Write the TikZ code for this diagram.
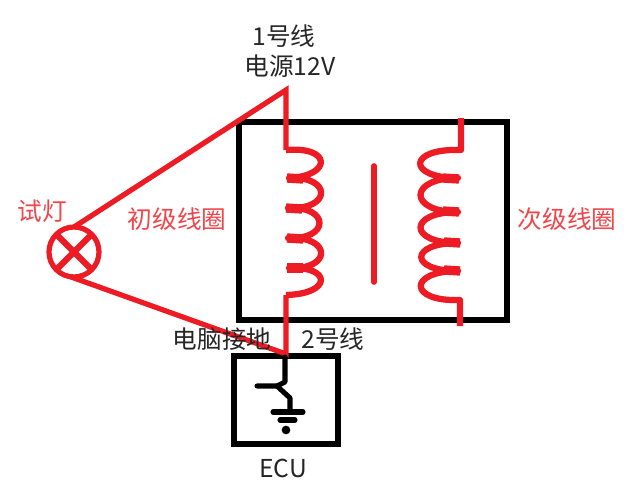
\documentclass[tikz,border=0pt]{standalone}
\usepackage{fontspec}
\setmainfont{Noto Sans CJK SC}
\definecolor{wirered}{RGB}{237,28,36}
\definecolor{labelred}{RGB}{240,70,75}
\tikzset{
  x=0.75pt,y=-0.75pt,
  coilline/.style={draw=wirered,line width=4.7pt,line join=round},
  wireline/.style={draw=wirered,line width=3.9pt,line join=miter},
  junction/.style={draw=wirered,line width=7pt},
  blackline/.style={draw=black,line width=4.8pt,line join=miter,outer sep=0pt,inner sep=0pt,anchor=north west},
  thinblack/.style={draw=black,line width=3.8pt,line cap=round,line join=round},
  lbl/.style={font=\fontsize{18.5}{20}\selectfont,text=black!85,inner sep=0pt},
  redlbl/.style={font=\fontsize{18.5}{20}\selectfont,text=labelred,inner sep=0pt},
}
\begin{document}
\begin{tikzpicture}
\useasboundingbox[fill=white] (0,0) rectangle (640,493);
% boxes
\node[blackline,minimum width=201pt,minimum height=148.5pt] (xfmr) at (239,122) {};
\node[blackline,minimum width=78pt,minimum height=66pt] (ecu) at (234,356) {};
% terminals
\coordinate (top) at (286,90);
\coordinate (bot) at (286,354);
\coordinate (lt) at (286,150);
\coordinate (lb) at (286,295);
\coordinate (rtop) at (461,118);
\coordinate (rt) at (461,150);
\coordinate (rb) at (460,300);
\coordinate (rbot) at (460,326);
% test lamp
\node[circle,draw=wirered,line width=3.9pt,minimum size=37.5pt,inner sep=0pt,outer sep=0pt] (lamp) at (74,252) {};
\draw[coilline] (lamp.45) -- (lamp.225);
\draw[coilline] (lamp.135) -- (lamp.315);
\draw[wireline] (lamp.90) -- (top) -- (lt);
\draw[wireline] (lamp.262) -- (bot) -- (lb);
% primary coil
\draw[coilline] (lt)
  .. controls (332,146) and (332,176) .. (289,178)
  .. controls (332,176) and (332,210) .. (288,208)
  .. controls (330,206) and (330,240) .. (288,238)
  .. controls (332,236) and (332,270) .. (289,268)
  .. controls (332,266) and (332,294) .. (lb);
\draw[junction] (287,178) -- (303,179);
\draw[junction] (286,208) -- (302,209);
\draw[junction] (287,238) -- (303,239);
\draw[junction] (287,268) -- (303,268);
% secondary coil
\draw[coilline] (rtop) -- (rt)
  .. controls (407,148) and (407,178) .. (458,178)
  .. controls (408,178) and (408,212) .. (458,212)
  .. controls (408,212) and (408,243) .. (458,243)
  .. controls (409,243) and (409,271) .. (458,271)
  .. controls (408,271) and (408,302) .. (rb) -- (rbot);
\draw[junction] (459,179) -- (443,178);
\draw[junction] (459,212) -- (443,211);
\draw[junction] (460,243) -- (444,242);
\draw[junction] (460,271) -- (444,270);
% core
\coordinate (c1) at (374,166);
\coordinate (c2) at (374,282);
\draw[coilline,line width=4.2pt,line cap=round] (c1) -- (c2);
% ground symbol
\coordinate (g1) at (285,357);
\coordinate (g2) at (285,382);
\coordinate (g3) at (290,398);
\coordinate (g4) at (290,411);
\coordinate (g5) at (257,386);
\coordinate (g6) at (277,386);
\draw[thinblack] (g1) -- (g2) -- (g6);
\draw[thinblack] (g5) -- (g6) -- (g3) -- (g4);
\coordinate (b1) at (273,412);
\coordinate (b2) at (303,412);
\coordinate (b3) at (280,420);
\coordinate (b4) at (295,420);
\draw[thinblack] (b1) -- (b2);
\draw[thinblack] (b3) -- (b4);
\node[circle,fill=black,minimum width=6.5pt,minimum height=5pt,inner sep=0pt] (gdot) at (286,430) {};
% labels
\node[lbl] (l1) at (284,36) {1号线};
\node[lbl] (l2) at (290,66) {电源12V};
\node[redlbl] (l3) at (42,211) {试灯};
\node[redlbl] (l4) at (177,219) {初级线圈};
\node[redlbl] (l5) at (567,219) {次级线圈};
\node[lbl] (l6) at (222,339) {电脑接地};
\node[lbl] (l7) at (333,339) {2号线};
\node[lbl] (l8) at (283,468) {ECU};
\end{tikzpicture}
\end{document}
